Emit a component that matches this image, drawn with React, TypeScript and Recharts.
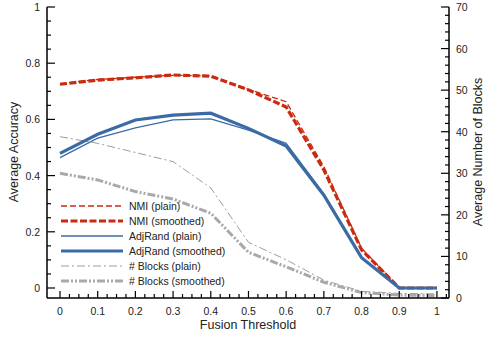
import { ComposedChart, Line, XAxis, YAxis, Label } from 'recharts';

const thresholds = [0, 0.1, 0.2, 0.3, 0.4, 0.5, 0.6, 0.7, 0.8, 0.9, 1];
const nmiPlain = [0.727, 0.742, 0.75, 0.757, 0.755, 0.707, 0.663, 0.432, 0.142, 0.0, 0.0];
const nmiSmoothed = [0.725, 0.74, 0.748, 0.758, 0.754, 0.705, 0.644, 0.42, 0.136, 0.0, 0.0];
const adjRandPlain = [0.464, 0.533, 0.57, 0.598, 0.602, 0.562, 0.515, 0.335, 0.11, 0.0, 0.0];
const adjRandSmoothed = [0.479, 0.547, 0.598, 0.615, 0.622, 0.568, 0.505, 0.33, 0.108, 0.0, 0.0];
const blocksPlain = [38.8, 37.2, 35.0, 32.8, 26.5, 13.4, 9.2, 4.3, 1.6, 1.1, 1.0];
const blocksSmoothed = [30.0, 28.4, 25.6, 23.8, 20.4, 11.0, 7.5, 3.8, 1.3, 0.7, 0.6];

const xLabels = [0, 0.1, 0.2, 0.3, 0.4, 0.5, 0.6, 0.7, 0.8, 0.9, 1];
const accLabels = [0, 0.2, 0.4, 0.6, 0.8, 1];
const blockLabels = [0, 10, 20, 30, 40, 50, 60, 70];

// minor + major tick positions
const xTicks = Array.from({ length: 42 }, (_, i) => +(i * 0.025).toFixed(3));
const accTicks = Array.from({ length: 21 }, (_, i) => +(i * 0.05).toFixed(2));
const blockTicks = Array.from({ length: 36 }, (_, i) => i * 2);

const RED = '#cc2a0e';
const BLUE = '#3b6ba5';
const GREY = '#9c9c9c';
const GREY_THICK = '#a9a9a9';
const FONT = '"Liberation Sans", Arial, Helvetica, sans-serif';
const TEXT = '#222';

const data = thresholds.map((t, i) => ({
  t,
  nmiPlain: nmiPlain[i],
  nmiSmoothed: nmiSmoothed[i],
  adjRandPlain: adjRandPlain[i],
  adjRandSmoothed: adjRandSmoothed[i],
  blocksPlain: blocksPlain[i],
  blocksSmoothed: blocksSmoothed[i],
}));

const legendItems = [
  { name: 'NMI (plain)', color: RED, width: 1.3, dash: '6 3' },
  { name: 'NMI (smoothed)', color: RED, width: 3.2, dash: '7 2.5' },
  { name: 'AdjRand (plain)', color: BLUE, width: 1.3, dash: undefined },
  { name: 'AdjRand (smoothed)', color: BLUE, width: 3.2, dash: undefined },
  { name: '# Blocks (plain)', color: GREY, width: 1, dash: '8 3 2 3' },
  { name: '# Blocks (smoothed)', color: GREY_THICK, width: 3, dash: '8 2 2 2 2 2' },
];

const isMajor = (v: number, list: number[]) => list.some((m) => Math.abs(m - v) < 1e-6);

function XTick({ x, y, payload }: any) {
  const major = isMajor(payload.value, xLabels);
  return (
    <g>
      <line x1={x} x2={x} y1={y} y2={y - (major ? 7 : 4)} stroke="#000" strokeWidth={1.2} />
      {major && (
        <text x={x} y={y + 17} textAnchor="middle" fontSize={10.5} fontFamily={FONT} fill={TEXT}>
          {String(payload.value)}
        </text>
      )}
    </g>
  );
}

function LeftTick({ x, y, payload }: any) {
  const major = isMajor(payload.value, accLabels);
  return (
    <g>
      <line x1={x} x2={x + (major ? 8 : 4)} y1={y} y2={y} stroke="#000" strokeWidth={1.2} />
      {major && (
        <text x={x - 7} y={y + 4} textAnchor="end" fontSize={10.5} fontFamily={FONT} fill={TEXT}>
          {String(payload.value)}
        </text>
      )}
    </g>
  );
}

function RightTick({ x, y, payload }: any) {
  const major = isMajor(payload.value, blockLabels);
  return (
    <g>
      <line x1={x} x2={x - (major ? 8 : 4)} y1={y} y2={y} stroke="#000" strokeWidth={1.2} />
      {major && (
        <text x={x + 7} y={y + 4} textAnchor="start" fontSize={10.5} fontFamily={FONT} fill={TEXT}>
          {String(payload.value)}
        </text>
      )}
    </g>
  );
}

// legend drawn in the chart's svg: sample line 61..123, text from 129
function LegendSvg() {
  return (
    <g>
      {legendItems.map((it, i) => {
        const cy = 206 + i * 15;
        return (
          <g key={it.name}>
            <line x1={61} x2={123} y1={cy} y2={cy} stroke={it.color} strokeWidth={it.width} strokeDasharray={it.dash} />
            <text x={129} y={cy + 3.8} textAnchor="start" fontSize={10.5} fontFamily={FONT} fill={TEXT}>
              {it.name}
            </text>
          </g>
        );
      })}
    </g>
  );
}

const axisLine = { stroke: '#000', strokeWidth: 1.5 };

export default function App() {
  return (
    <div style={{ position: 'absolute', left: 0, top: 0, width: 486, height: 338, background: '#fff' }}>
      <ComposedChart width={486} height={338} data={data} margin={{ top: 7, right: 0, bottom: 0, left: 0 }}>
        <XAxis
          xAxisId="top"
          orientation="top"
          type="number"
          domain={[-0.0345, 1.032]}
          allowDataOverflow
          tick={false}
          tickLine={false}
          axisLine={axisLine}
          height={0}
        />
        <YAxis
          yAxisId="acc"
          type="number"
          domain={[-0.0356, 1]}
          allowDataOverflow
          ticks={accTicks}
          interval={0}
          tick={<LeftTick />}
          tickLine={false}
          tickSize={0}
          tickMargin={0}
          axisLine={axisLine}
          width={47}
        >
          <Label
            content={() => (
              <text
                x={0}
                y={0}
                transform="translate(18,152) rotate(-90)"
                textAnchor="middle"
                fontSize={12.5}
                fontFamily={FONT}
                fill={TEXT}
              >
                Average Accuracy
              </text>
            )}
          />
        </YAxis>
        <YAxis
          yAxisId="blocks"
          orientation="right"
          type="number"
          domain={[0, 70]}
          allowDataOverflow
          ticks={blockTicks}
          interval={0}
          tick={<RightTick />}
          tickLine={false}
          tickSize={0}
          tickMargin={0}
          axisLine={axisLine}
          width={37}
        >
          <Label
            content={() => (
              <text
                x={0}
                y={0}
                transform="translate(482,152) rotate(-90)"
                textAnchor="middle"
                fontSize={12.5}
                fontFamily={FONT}
                fill={TEXT}
              >
                Average Number of Blocks
              </text>
            )}
          />
        </YAxis>

        <Line yAxisId="blocks" dataKey="blocksPlain" type="linear" stroke={GREY} strokeWidth={1} strokeDasharray="8 3 2 3" dot={false} activeDot={false} isAnimationActive={false} />
        <Line yAxisId="blocks" dataKey="blocksSmoothed" type="linear" stroke={GREY_THICK} strokeWidth={3} strokeDasharray="8 2 2 2 2 2" dot={false} activeDot={false} isAnimationActive={false} />
        <Line yAxisId="acc" dataKey="nmiPlain" type="linear" stroke={RED} strokeWidth={1.3} strokeDasharray="6 3" dot={false} activeDot={false} isAnimationActive={false} />
        <Line yAxisId="acc" dataKey="nmiSmoothed" type="linear" stroke={RED} strokeWidth={3.2} strokeDasharray="7 2.5" dot={false} activeDot={false} isAnimationActive={false} />
        <Line yAxisId="acc" dataKey="adjRandPlain" type="linear" stroke={BLUE} strokeWidth={1.3} dot={false} activeDot={false} isAnimationActive={false} />
        <Line yAxisId="acc" dataKey="adjRandSmoothed" type="linear" stroke={BLUE} strokeWidth={3.2} dot={false} activeDot={false} isAnimationActive={false} />

        <XAxis
          dataKey="t"
          type="number"
          domain={[-0.0345, 1.032]}
          allowDataOverflow
          ticks={xTicks}
          interval={0}
          tick={<XTick />}
          tickLine={false}
          tickSize={0}
          tickMargin={0}
          axisLine={axisLine}
          height={40}
        >
          <Label
            content={() => (
              <g>
                <text x={248} y={329} textAnchor="middle" fontSize={12.5} fontFamily={FONT} fill={TEXT}>
                  Fusion Threshold
                </text>
                <LegendSvg />
              </g>
            )}
          />
        </XAxis>
      </ComposedChart>
    </div>
  );
}
